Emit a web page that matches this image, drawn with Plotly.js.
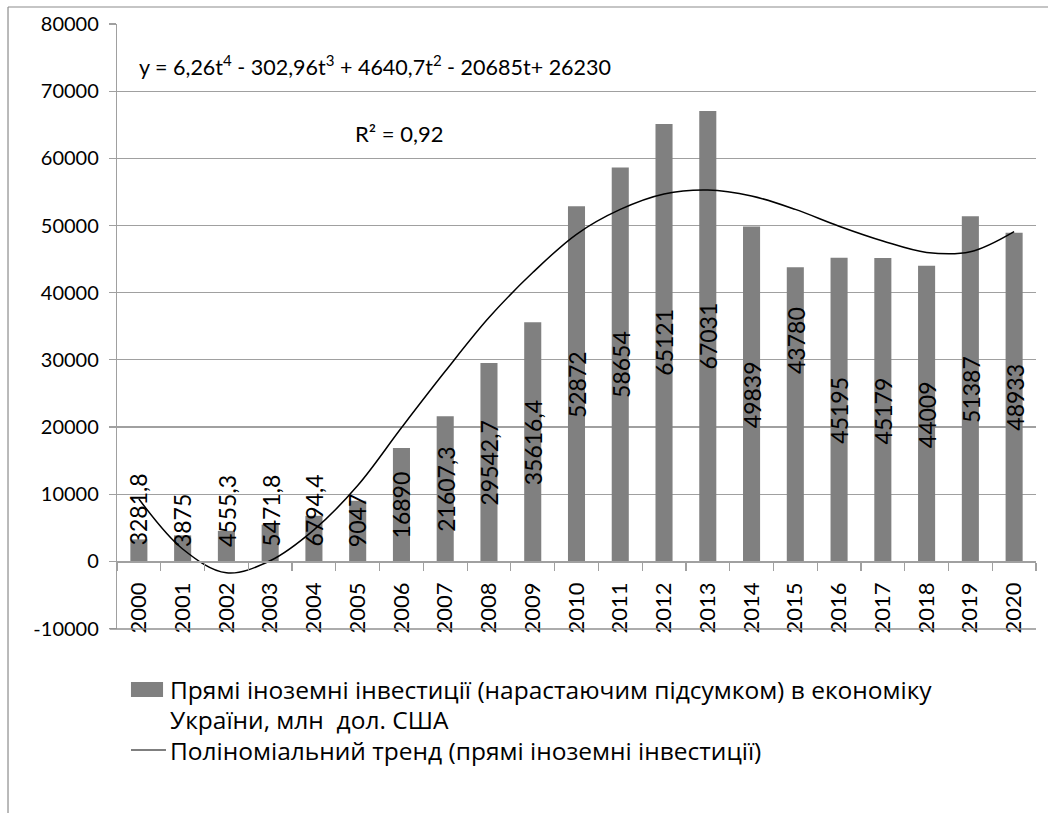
<!DOCTYPE html>
<html>
<head>
<meta charset="utf-8">
<script src="https://cdn.plot.ly/plotly-3.0.1.min.js"></script>
<style>html,body{margin:0;padding:0;background:#fff;}#chart{width:1048px;height:813px;}</style>
</head>
<body>
<div id="chart"></div>
<script>
// Categories (years)
var years = ['2000','2001','2002','2003','2004','2005','2006','2007','2008','2009','2010',
             '2011','2012','2013','2014','2015','2016','2017','2018','2019','2020'];
// FDI accumulated, mln USD
var fdiValues = [3281.8, 3875, 4555.3, 5471.8, 6794.4, 9047, 16890, 21607.3, 29542.7, 35616.4, 52872,
                 58654, 65121, 67031, 49839, 43780, 45195, 45179, 44009, 51387, 48933];
// Polynomial trend line, values at each year
var trendValues = [9300, 1850, -1700, 100, 4700, 11300, 19900, 28300, 36300, 43000, 48700,
                   52400, 54700, 55300, 54400, 52400, 49900, 47700, 46000, 46100, 49100];
// Where each data label sits (label centre, in axis units), as placed in the original
var labelCentres = [7730, 6100, 7580, 7580, 7580, 6100, 8400, 10700, 14720, 17700, 26320,
                    29290, 32560, 33610, 24830, 32860, 22450, 22450, 21860, 25580, 24390];
var yTicks = [-10000, 0, 10000, 20000, 30000, 40000, 50000, 60000, 70000, 80000];

var barName = 'Прямі іноземні інвестиції (нарастаючим підсумком) в економіку<br>України, млн  дол. США';
var trendName = 'Поліноміальний тренд (прямі іноземні інвестиції)';
var FONT = 'Lato, "Open Sans", sans-serif';
var LFONT = '"Open Sans", Lato, sans-serif';
var GRID = '#a0a0a0';
var yMin = -10060, yMax = 80000;

var traces = [
  {type:'bar', x: years, y: fdiValues, name: barName, marker:{color:'#808080'}, hoverinfo:'x+y'},
  {type:'scatter', mode:'lines', x: years, y: trendValues, name: trendName,
   line:{color:'#000', width:1.5, shape:'spline', smoothing:1}, hoverinfo:'skip'}
];

var annotations = [];
for (var i = 0; i < years.length; i++) {
  annotations.push({
    x: i, y: labelCentres[i], xref:'x', yref:'y',   // category axis: serial index of the year
    text: String(fdiValues[i]).replace('.', ','),
    textangle: -90, showarrow:false, xanchor:'center', yanchor:'middle',
    font:{family:FONT, size:23, color:'#000'}
  });
}
annotations.push({
  xref:'paper', yref:'paper', x:0.0218, y:0.9306, xanchor:'left', yanchor:'middle', showarrow:false,
  text:'y = 6,26t<sup>4</sup> - 302,96t<sup>3</sup> + 4640,7t<sup>2</sup> - 20685t+ 26230',
  font:{family:FONT, size:21.5, color:'#000'}
});
annotations.push({
  xref:'paper', yref:'paper', x:0.2568, y:0.8198, xanchor:'left', yanchor:'middle', showarrow:false,
  text:'R² = 0,92', font:{family:FONT, size:22, color:'#000'}
});
// custom legend text
annotations.push({
  xref:'paper', yref:'paper', x:0.0555, y:-0.1008, xanchor:'left', yanchor:'middle', showarrow:false,
  text:'Прямі іноземні інвестиції (нарастаючим підсумком) в економіку', font:{family:LFONT, size:24.5, color:'#000'}
});
annotations.push({
  xref:'paper', yref:'paper', x:0.0555, y:-0.1504, xanchor:'left', yanchor:'middle', showarrow:false,
  text:'України, млн  дол. США', font:{family:LFONT, size:24.5, color:'#000'}
});
annotations.push({
  xref:'paper', yref:'paper', x:0.0555, y:-0.2, xanchor:'left', yanchor:'middle', showarrow:false,
  text: trendName, font:{family:LFONT, size:24.5, color:'#000'}
});

var shapes = [
  // bottom gridline at -10000
  {type:'line', xref:'paper', yref:'paper', x0:-0.008, x1:1, y0:0, y1:0,
   line:{color:'#909090', width:1.6}, layer:'above'},
  // legend symbols
  {type:'rect', xref:'paper', yref:'paper', x0:0.0152, x1:0.0501, y0:-0.1124, y1:-0.0876,
   fillcolor:'#808080', line:{width:0}},
  {type:'line', xref:'paper', yref:'paper', x0:0.0152, x1:0.0533, y0:-0.2, y1:-0.2,
   line:{color:'#000', width:1.2}},
  // outer chart frame (left and top edges visible)
  {type:'line', xref:'paper', yref:'paper', x0:-0.1186, x1:-0.1186, y0:1.0281, y1:-0.33,
   line:{color:'#8c8c8c', width:1.2}},
  {type:'line', xref:'paper', yref:'paper', x0:-0.1186, x1:1.02, y0:1.0281, y1:1.0281,
   line:{color:'#8c8c8c', width:1.2}}
];

var layout = {
  width:1048, height:813,
  margin:{l:117, r:12, t:24, b:184},
  paper_bgcolor:'#fff', plot_bgcolor:'#fff',
  showlegend:false,
  bargap:0.61,
  font:{family:FONT, color:'#000'},
  xaxis:{
    type:'category', anchor:'free', position:(0 - yMin)/(yMax - yMin),
    range:[-0.5, years.length - 0.5],
    showline:true, linecolor:GRID, linewidth:1.2,
    ticks:'outside', ticklen:8, tickcolor:GRID, tickwidth:1.2, tickson:'boundaries',
    tickangle:-90, ticklabelstandoff:11,
    tickfont:{family:FONT, size:22, color:'#000'},
    showgrid:false, zeroline:false
  },
  // plain axis used only to draw the bottom border line of the plot area (-10000 level)
  xaxis2:{
    overlaying:'x', anchor:'y', side:'bottom', range:[0, 1],
    showline:true, linecolor:GRID, linewidth:1.4,
    showticklabels:false, ticks:'', showgrid:false, zeroline:false
  },
  yaxis:{
    range:[yMin, yMax], tickvals:yTicks, ticktext:yTicks.map(String),
    showline:true, linecolor:GRID, linewidth:1.2,
    ticks:'outside', ticklen:7, tickcolor:GRID, tickwidth:1.2,
    showgrid:true, gridcolor:GRID, gridwidth:1.2, zeroline:false,
    tickfont:{family:FONT, size:20, color:'#000'}, ticklabelstandoff:6
  },
  annotations: annotations,
  shapes: shapes
};

Plotly.newPlot('chart', traces, layout, {displayModeBar:false, staticPlot:true});
</script>
</body>
</html>
